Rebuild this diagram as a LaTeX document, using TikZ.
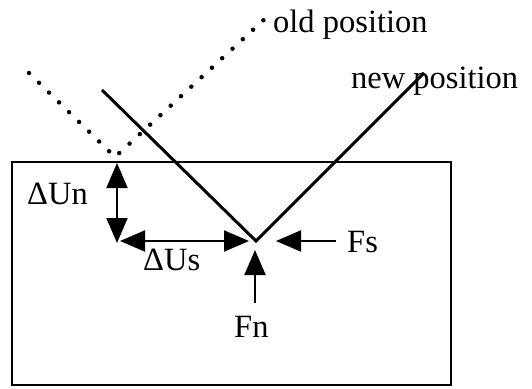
\documentclass[tikz,border=0pt]{standalone}
\usepackage{fontspec}
\setmainfont{Liberation Serif}
\usetikzlibrary{arrows.meta}
\begin{document}
\begin{tikzpicture}[x=1pt,y=-1pt,
  lbl/.style={inner sep=0pt,anchor=base west,font=\fontsize{32.5}{36}\selectfont},
  oldline/.style={line width=4.5pt,line cap=round,dash pattern=on 0pt off 14pt},
  newline/.style={line width=3pt},
  force/.style={line width=2pt,-{Triangle[length=25pt,width=21pt]}},
  dbl/.style={line width=2pt,{Triangle[length=25pt,width=21pt]}-{Triangle[length=25pt,width=21pt]}}]
\useasboundingbox (0,0) rectangle (532,388);
% body
\draw[line width=2.5pt] (12,162) rectangle (451,385);
% old position
\coordinate (oL) at (29,73);
\coordinate (ov) at (115,157);
\coordinate (oR) at (268,16);
\draw[oldline] (oL) -- (ov) -- (oR);
% new position
\coordinate (nL) at (102,90);
\coordinate (nv) at (256,241);
\coordinate (nR) at (424,73);
\draw[newline,line join=miter] (nL) -- (nv) -- (nR);
% displacement arrows
\coordinate (unT) at (117,163);
\coordinate (unB) at (117,243);
\draw[dbl] (unT) -- (unB);
\coordinate (usL) at (120,241);
\coordinate (usR) at (249,241);
\draw[dbl] (usL) -- (usR);
% forces
\coordinate (fsT) at (336,241);
\coordinate (fsH) at (276,241);
\draw[force] (fsT) -- (fsH);
\coordinate (fnT) at (255,303);
\coordinate (fnH) at (255,250);
\draw[force] (fnT) -- (fnH);
% labels
\node[lbl] (old) at (273,32) {old position};
\node[lbl] (new) at (351,88) {new position};
\node[lbl] (dun) at (27,204) {ΔUn};
\node[lbl] (dus) at (143,270) {ΔUs};
\node[lbl] (fs) at (347,252) {Fs};
\node[lbl] (fn) at (234,337) {Fn};
\end{tikzpicture}
\end{document}
